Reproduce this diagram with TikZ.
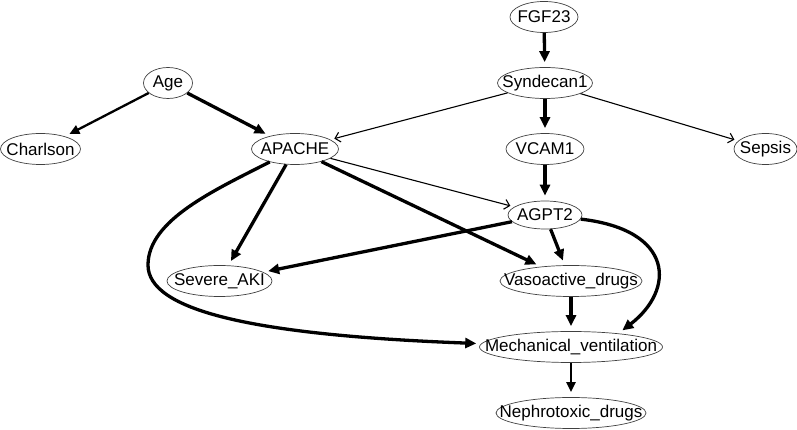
\documentclass[tikz,border=0pt]{standalone}
\usepackage{fontspec}
\setmainfont{Liberation Sans}
\usetikzlibrary{shapes.geometric,arrows.meta}
\tikzset{varnode/.style={draw=black!75,line width=0.7pt,ellipse,inner sep=0pt,minimum height=31pt,font=\fontsize{17}{20}\selectfont},
strongedge/.style={line width=3.3pt,-{Triangle[length=11pt,width=10pt]},shorten >=5pt},
mediumedge/.style={line width=2.3pt,-{Triangle[length=10pt,width=9pt]},shorten >=5pt},
weakedge/.style={line width=1.1pt,-{Straight Barb[length=5pt,width=10pt]},shorten >=4pt}}
\newcommand{\nodetext}[1]{\makebox[0pt]{#1}}

\begin{document}
\begin{tikzpicture}[x=1pt,y=1pt]
\useasboundingbox (0,0) rectangle (797,430);
\node[varnode,minimum width=68pt] (fgf) at (544,413) {\nodetext{FGF23}};
\node[varnode,minimum width=95pt] (syn) at (545,347) {\nodetext{Syndecan1}};
\node[varnode,minimum width=49pt] (age) at (168,347) {\nodetext{Age}};
\node[varnode,minimum width=80pt] (charlson) at (40.5,281) {\nodetext{Charlson}};
\node[varnode,minimum width=87pt] (apache) at (295,281) {\nodetext{APACHE}};
\node[varnode,minimum width=78pt] (vcam) at (545,281) {\nodetext{VCAM1}};
\node[varnode,minimum width=63pt] (sepsis) at (765.5,281) {\nodetext{Sepsis}};
\node[varnode,minimum width=74pt,minimum height=28pt] (agpt) at (545,215) {\nodetext{AGPT2}};
\node[varnode,minimum width=105pt] (aki) at (219.5,149) {\nodetext{Severe\_AKI}};
\node[varnode,minimum width=142pt] (vaso) at (571,149) {\nodetext{Vasoactive\_drugs}};
\node[varnode,minimum width=183pt] (mech) at (571,83) {\nodetext{Mechanical\_ventilation}};
\node[varnode,minimum width=150pt] (nephro) at (571,17) {\nodetext{Nephrotoxic\_drugs}};
\draw[strongedge] (fgf) -- (syn);
\draw[strongedge] (syn) -- (vcam);
\draw[weakedge] (syn) -- (apache);
\draw[weakedge] (syn) -- (sepsis);
\draw[strongedge] (vcam) -- (agpt);
\draw[mediumedge] (age) -- (charlson);
\draw[strongedge] (age) -- (apache);
\draw[weakedge] (apache) -- (agpt);
\draw[strongedge] (apache) -- (aki);
\draw[strongedge] (apache) -- (vaso);
\draw[strongedge] (apache) .. controls (215,240) and (148,210) .. (148,165) .. controls (148,120) and (250,95) .. (mech);
\draw[strongedge] (agpt) -- (aki);
\draw[strongedge] (agpt) -- (vaso);
\draw[strongedge] (agpt) .. controls (675,200) and (675,140) .. (mech.16);
\draw[strongedge] (vaso) -- (mech);
\draw[mediumedge] (mech) -- (nephro);
\end{tikzpicture}
\end{document}
